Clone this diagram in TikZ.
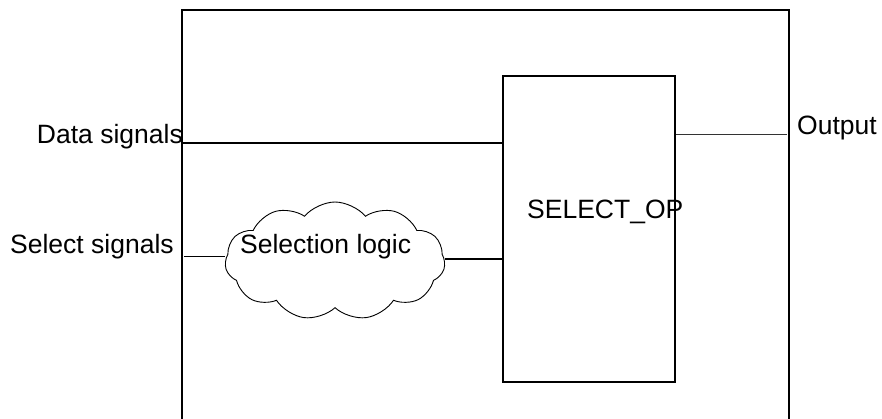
\documentclass[tikz,border=0pt]{standalone}
\usepackage{fontspec}
\setmainfont{Liberation Sans}
\usetikzlibrary{shapes.symbols}
\begin{document}
\begin{tikzpicture}[x=1pt,y=-1pt,
  thick box/.style={draw, line width=2pt, inner sep=0pt, anchor=north west},
  lbl/.style={inner sep=0pt, font=\fontsize{26.5}{30}\selectfont},
  wire/.style={line width=2pt},
  thinwire/.style={line width=1pt}]
\useasboundingbox (0,0) rectangle (882,418);
\clip (0,0) rectangle (882,418);
\fill[white] (0,0) rectangle (882,418);
% outer box
\node[thick box, minimum width=607pt, minimum height=430pt] (outer) at (181,9) {};
% inner box
\node[thick box, minimum width=172pt, minimum height=306pt] (selop) at (502,75) {};
\node[lbl, anchor=base west] (seltxt) at (527,218) {SELECT\_OP};
% cloud
\node[cloud, draw, line width=0.9pt, cloud puffs=11, cloud puff arc=100, aspect=1.85,
      minimum width=220pt, minimum height=118pt, inner sep=0pt] (cloud) at (335,261) {};
\node[lbl, anchor=base west] (cloudtxt) at (240,253) {Selection logic};
% labels
\node[lbl, anchor=base east] (datatxt) at (183,143) {Data signals};
\node[lbl, anchor=base west] (seltext) at (10,253) {Select signals};
\node[lbl, anchor=base west] (outtxt) at (797,134) {Output};
% coordinates
\coordinate (dA) at (181,143);
\coordinate (sA) at (184,256);
\coordinate (oB) at (787,134);
% wires
\draw[wire] (dA) -- (dA -| selop.west);
\draw[thinwire] (sA) -- (sA -| cloud.west);
\draw[wire] (cloud.east |- 0,259) -- (selop.west |- 0,259);
\draw[thinwire, black!80] (selop.east |- oB) -- (oB);
\end{tikzpicture}
\end{document}
